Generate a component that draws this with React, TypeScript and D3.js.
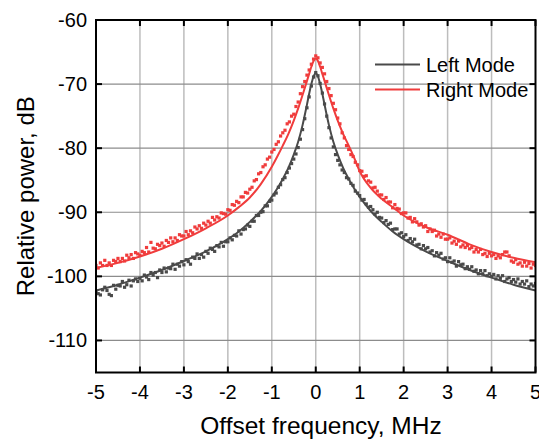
import React from "react";
import * as d3 from "d3";

// ---- data ----
const X_TICKS = [-5, -4, -3, -2, -1, 0, 1, 2, 3, 4, 5];
const Y_TICKS = [-110, -100, -90, -80, -70, -60];
const SERIES_NAMES = ["Left Mode", "Right Mode"];
const SERIES_COLORS = ["#4a4a4a", "#f03c3c"];

// measured spectra sampled every 0.05 MHz from -5 to 5 MHz
const SCAN_START = -5;
const SCAN_STEP = 0.05;

const LEFT_MEAS = [
  -102.3, -102.7, -102.9, -102.1, -101.7, -102.2, -102.8, -103.0, -101.4, -102.0,
  -101.4, -101.5, -100.8, -101.7, -101.3, -100.6, -101.5, -100.7, -100.4, -100.8,
  -100.3, -100.7, -99.8, -100.1, -100.5, -99.4, -99.8, -99.4, -100.2, -99.0,
  -99.4, -98.7, -99.3, -98.7, -98.8, -98.1, -98.9, -98.1, -98.4, -97.7,
  -98.2, -97.4, -97.7, -98.1, -97.0, -97.2, -96.5, -97.2, -96.6, -97.0,
  -96.1, -96.4, -95.6, -95.8, -96.1, -95.2, -95.4, -94.7, -95.3, -94.6,
  -94.6, -94.0, -94.3, -93.6, -93.7, -92.9, -93.4, -92.7, -92.6, -92.0,
  -92.2, -91.4, -91.4, -90.5, -90.5, -90.0, -89.9, -89.0, -89.0, -88.3,
  -88.1, -87.3, -87.0, -86.1, -85.7, -84.9, -84.6, -83.8, -83.1, -82.4,
  -81.7, -80.9, -79.9, -78.6, -77.1, -75.4, -73.7, -72.0, -70.3, -68.9,
  -68.2,
  -68.7, -69.9, -71.4, -73.1, -75.0, -76.8, -78.4, -79.8, -81.0, -81.9,
  -82.6, -83.4, -83.8, -84.6, -84.8, -85.5, -85.8, -86.7, -87.0, -87.4,
  -88.1, -88.0, -88.7, -89.2, -89.1, -89.6, -90.3, -90.0, -90.8, -90.9,
  -91.6, -91.3, -91.9, -91.7, -92.7, -92.6, -92.6, -93.4, -93.2, -93.8,
  -93.5, -94.4, -94.1, -94.6, -94.2, -95.1, -95.0, -95.7, -95.2, -95.7,
  -95.5, -96.2, -96.0, -96.8, -96.3, -96.7, -96.4, -97.3, -97.1, -97.7,
  -97.1, -97.8, -97.6, -98.4, -97.7, -98.2, -98.1, -98.8, -98.5, -98.9,
  -98.5, -99.2, -99.0, -99.6, -99.1, -99.6, -99.1, -99.9, -99.6, -100.0,
  -99.7, -100.4, -99.9, -100.3, -99.9, -100.8, -100.4, -100.2, -100.8, -100.5,
  -100.9, -100.4, -101.2, -100.8, -101.2, -100.7, -101.6, -101.2, -101.5, -101.1,
];

const RIGHT_MEAS = [
  -98.3, -98.7, -97.9, -98.3, -97.5, -98.3, -97.9, -98.3, -97.5, -97.7,
  -97.2, -97.7, -97.2, -97.6, -96.7, -97.1, -96.6, -97.2, -96.3, -96.5,
  -96.7, -96.1, -96.3, -95.5, -96.2, -94.7, -95.6, -95.7, -95.0, -95.2,
  -94.8, -95.3, -94.4, -94.7, -94.0, -94.6, -94.0, -94.4, -93.5, -93.7,
  -93.7, -93.0, -93.5, -92.9, -93.2, -92.3, -92.6, -92.1, -92.5, -91.7,
  -92.0, -91.4, -91.7, -90.8, -91.2, -90.7, -90.9, -90.1, -90.2, -90.3,
  -89.6, -89.7, -88.8, -88.9, -88.3, -88.5, -87.6, -87.6, -86.9, -87.0,
  -86.4, -86.1, -85.1, -84.9, -84.0, -83.8, -82.9, -82.6, -81.7, -81.4,
  -80.6, -80.2, -79.4, -79.0, -78.1, -77.6, -77.2, -76.2, -75.9, -75.0,
  -74.7, -73.5, -72.8, -71.5, -70.4, -69.6, -68.6, -67.8, -66.9, -66.1,
  -65.6,
  -65.9, -66.7, -67.4, -68.4, -69.6, -70.7, -71.8, -73.0, -74.0, -75.3,
  -76.2, -77.6, -78.4, -79.6, -80.2, -81.0, -81.3, -82.2, -82.6, -83.5,
  -83.6, -84.4, -84.3, -85.1, -85.3, -86.2, -86.1, -86.7, -87.3, -87.3,
  -88.0, -87.7, -88.4, -88.4, -89.3, -88.8, -89.4, -89.5, -90.2, -90.1,
  -90.1, -90.9, -90.8, -91.5, -91.0, -91.5, -92.0, -91.8, -92.3, -92.1,
  -93.0, -92.6, -93.0, -92.8, -93.7, -93.4, -93.9, -93.4, -94.2, -94.2,
  -94.0, -94.8, -94.5, -95.0, -94.5, -95.4, -95.1, -95.5, -95.2, -95.7,
  -95.5, -96.2, -95.8, -96.2, -95.8, -96.6, -96.4, -96.9, -96.4, -96.8,
  -96.6, -97.2, -96.8, -97.1, -96.6, -96.2, -96.2, -96.8, -97.6, -97.8,
  -97.4, -98.1, -97.9, -98.4, -97.8, -98.4, -98.0, -98.7, -98.1, -98.3,
];

// fitted curves
const FIT_X = [
  -5, -4.5, -4, -3.5, -3, -2.5, -2, -1.75, -1.5, -1.25, -1, -0.875, -0.75, -0.625, -0.5,
  -0.4, -0.3, -0.2, -0.15, -0.1, -0.05, 0, 0.05, 0.1, 0.15, 0.2, 0.3, 0.4, 0.5, 0.625,
  0.75, 0.875, 1, 1.25, 1.5, 1.75, 2, 2.5, 3, 3.5, 4, 4.5, 5,
];
const LEFT_FIT = [
  -102.2, -101.3, -100.2, -99.0, -97.6, -96.1, -94.2, -93.0, -91.5, -89.8, -87.6, -86.3, -84.8, -83.1, -81.0,
  -79.0, -76.4, -73.2, -71.5, -70.0, -68.8, -68.3, -68.8, -70.0, -71.5, -73.2, -76.4, -79.0, -81.0, -83.1,
  -84.8, -86.3, -87.6, -89.8, -91.5, -93.0, -94.2, -96.1, -97.6, -99.0, -100.2, -101.3, -102.2,
];
const RIGHT_FIT = [
  -98.7, -97.9, -96.9, -95.7, -94.2, -92.5, -90.5, -89.2, -87.7, -85.6, -82.9, -81.3, -79.6, -77.8, -75.7,
  -73.8, -71.7, -69.5, -68.4, -67.3, -66.4, -66.0, -66.4, -67.3, -68.4, -69.5, -71.7, -73.8, -75.7, -77.8,
  -79.6, -81.5, -83.6, -86.2, -87.9, -89.2, -90.5, -92.3, -93.5, -95.0, -96.2, -97.1, -97.8,
];

const W = 539;
const H = 441;
const M = { left: 96, right: 535.5, top: 20, bottom: 372.5 };
const FONT = "Liberation Sans, Arial, Helvetica, sans-serif";

export default function App() {
  const x = d3.scaleLinear().domain([-5, 5]).range([M.left, M.right]);
  const y = d3.scaleLinear().domain([-115, -60]).range([M.bottom, M.top]);

  const scanX = LEFT_MEAS.map((_, i) => SCAN_START + i * SCAN_STEP);
  const meas = [LEFT_MEAS, RIGHT_MEAS];
  const fits = [LEFT_FIT, RIGHT_FIT];

  const line = d3
    .line<[number, number]>()
    .x((d) => x(d[0]))
    .y((d) => y(d[1]))
    .curve(d3.curveMonotoneX);

  const tickLen = 6;
  const ms = 3.2;

  return (
    <svg
      width={W}
      height={H}
      style={{ position: "absolute", left: 0, top: 0, background: "#fff" }}
      fontFamily={FONT}
    >
      <defs>
        <clipPath id="plotclip">
          <rect x={M.left} y={M.top} width={M.right - M.left} height={M.bottom - M.top} />
        </clipPath>
      </defs>
      {/* grid */}
      {X_TICKS.slice(1, -1).map((t) => (
        <line key={"gx" + t} x1={x(t)} x2={x(t)} y1={M.top} y2={M.bottom} stroke="#bdbdbd" strokeWidth={1.5} />
      ))}
      {Y_TICKS.slice(0, -1).map((t) => (
        <line key={"gy" + t} x1={M.left} x2={M.right} y1={y(t)} y2={y(t)} stroke="#8c8c8c" strokeWidth={1.2} />
      ))}

      {/* data */}
      <g clipPath="url(#plotclip)">
        {meas.map((vals, si) => (
          <g key={"s" + si} fill={SERIES_COLORS[si]}>
            {vals.map((v, i) => (
              <rect key={i} x={x(scanX[i]) - ms / 2} y={y(v) - ms / 2} width={ms} height={ms} />
            ))}
          </g>
        ))}
        {fits.map((vals, si) => (
          <path
            key={"f" + si}
            d={line(FIT_X.map((fx, i) => [fx, vals[i]] as [number, number])) || ""}
            fill="none"
            stroke={SERIES_COLORS[si]}
            strokeWidth={2}
          />
        ))}
      </g>

      {/* ticks */}
      {X_TICKS.map((t) => (
        <g key={"tx" + t}>
          <line x1={x(t)} x2={x(t)} y1={M.bottom} y2={M.bottom - tickLen} stroke="#000" strokeWidth={2} />
          <line x1={x(t)} x2={x(t)} y1={M.top} y2={M.top + tickLen} stroke="#000" strokeWidth={2} />
          <text x={x(t)} y={399} textAnchor="middle" fontSize={20} fill="#000">
            {t}
          </text>
        </g>
      ))}
      {Y_TICKS.map((t) => (
        <g key={"ty" + t}>
          <line x1={M.left} x2={M.left + tickLen} y1={y(t)} y2={y(t)} stroke="#000" strokeWidth={2} />
          <line x1={M.right} x2={M.right - tickLen} y1={y(t)} y2={y(t)} stroke="#000" strokeWidth={2} />
          <text x={87} y={y(t) + 7} textAnchor="end" fontSize={20} fill="#000">
            {t}
          </text>
        </g>
      ))}

      {/* frame */}
      <rect
        x={M.left}
        y={M.top}
        width={M.right - M.left}
        height={M.bottom - M.top}
        fill="none"
        stroke="#000"
        strokeWidth={2}
      />

      {/* axis titles */}
      <text x={321} y={434} textAnchor="middle" fontSize={24.5} fill="#000">
        Offset frequency, MHz
      </text>
      <text
        transform={`translate(34, ${(M.top + M.bottom) / 2}) rotate(-90)`}
        textAnchor="middle"
        fontSize={24}
        fill="#000"
      >
        Relative power, dB
      </text>

      {/* legend */}
      {SERIES_NAMES.map((n, i) => (
        <g key={"lg" + i}>
          <line x1={375} x2={420} y1={64.5 + i * 25} y2={64.5 + i * 25} stroke={SERIES_COLORS[i]} strokeWidth={2} />
          <text x={426} y={71.5 + i * 25} fontSize={20} fill="#000">
            {n}
          </text>
        </g>
      ))}
    </svg>
  );
}
